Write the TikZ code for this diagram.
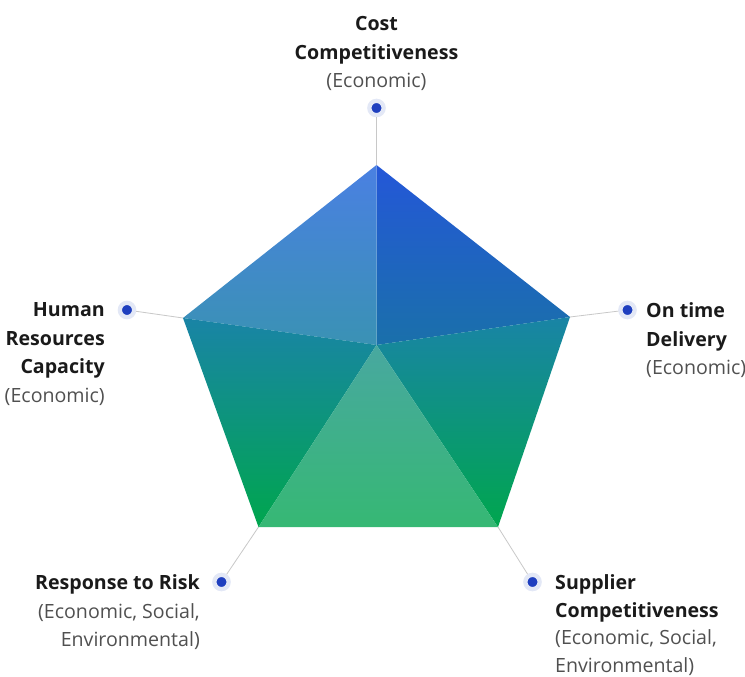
\documentclass[tikz,border=0pt]{standalone}
\usepackage{fontspec}
\setmainfont{Open Sans}
\definecolor{dotblue}{HTML}{1F3FBF}
\definecolor{halo}{HTML}{E3E8F6}
\definecolor{conn}{HTML}{C8C8C8}
\definecolor{txtdark}{HTML}{1A1A1A}
\definecolor{txtgray}{HTML}{505050}
\definecolor{trT}{HTML}{2457D8}
\definecolor{trB}{HTML}{1A70AA}
\definecolor{tlT}{HTML}{4A80E2}
\definecolor{tlB}{HTML}{3A92B4}
\definecolor{sideT}{HTML}{1984A6}
\definecolor{sideB}{HTML}{00A64E}
\definecolor{botT}{HTML}{48A8A0}
\definecolor{botB}{HTML}{36B874}
\newcommand{\hd}[1]{\textbf{#1}}
\newcommand{\sub}[1]{\textcolor{txtgray}{#1}}
\begin{document}
\begin{tikzpicture}[x=1pt,y=-1pt,
  dot/.style={circle, inner sep=0pt, minimum size=14.3pt, fill=dotblue, draw=halo, line width=4.3pt},
  connline/.style={draw=conn, line width=0.8pt},
  lbl/.style={inner sep=0pt, text=txtdark, font=\fontsize{19.6}{28.5}\selectfont},
  lbltight/.style={lbl, font=\fontsize{19.6}{27.6}\selectfont}
]
\useasboundingbox (0,0) rectangle (745,677);
% vertices
\coordinate (C) at (376.5,345);
\coordinate (T) at (376.5,165);
\coordinate (R) at (570,317);
\coordinate (BR) at (498,527);
\coordinate (BL) at (258.5,527);
\coordinate (L) at (183,318);
% dots
\node[dot] (dT) at (376.5,108) {};
\node[dot] (dR) at (627.5,310) {};
\node[dot] (dBR) at (532.5,582) {};
\node[dot] (dBL) at (221.5,582) {};
\node[dot] (dL) at (127,310) {};
% connectors
\draw[connline] (dT) -- (T);
\draw[connline] (dR) -- (R);
\draw[connline] (dBR) -- (BR);
\draw[connline] (dBL) -- (BL);
\draw[connline] (dL) -- (L);
% faces
\shade[top color=trT, bottom color=trB] (T) -- (R) -- (C) -- cycle;
\shade[top color=tlT, bottom color=tlB] (T) -- (C) -- (L) -- cycle;
\shade[top color=sideT, bottom color=sideB] (C) -- (R) -- (BR) -- cycle;
\shade[top color=sideT, bottom color=sideB] (L) -- (C) -- (BL) -- cycle;
\shade[top color=botT, bottom color=botB] (C) -- (BR) -- (BL) -- cycle;
% labels
\node[lbl, anchor=north, align=center] (lT) at (376.5,16.5)
  {\hd{Cost}\\\hd{Competitiveness}\\\sub{(Economic)}};
\node[lbl, anchor=north west, align=left] (lR) at (646,302.5)
  {\hd{On time}\\\hd{Delivery}\\\sub{(Economic)}};
\node[lbltight, anchor=north west, align=left] (lBR) at (555,574.5)
  {\hd{Supplier}\\\hd{Competitiveness}\\\sub{(Economic, Social,}\\\sub{Environmental)}};
\node[lbl, anchor=north east, align=right] (lBL) at (200,574.5)
  {\hd{Response to Risk}\\\sub{(Economic, Social,}\\\sub{Environmental)}};
\node[lbl, anchor=north east, align=right] (lL) at (105,302.5)
  {\hd{Human}\\\hd{Resources}\\\hd{Capacity}\\\sub{(Economic)}};
\end{tikzpicture}
\end{document}
